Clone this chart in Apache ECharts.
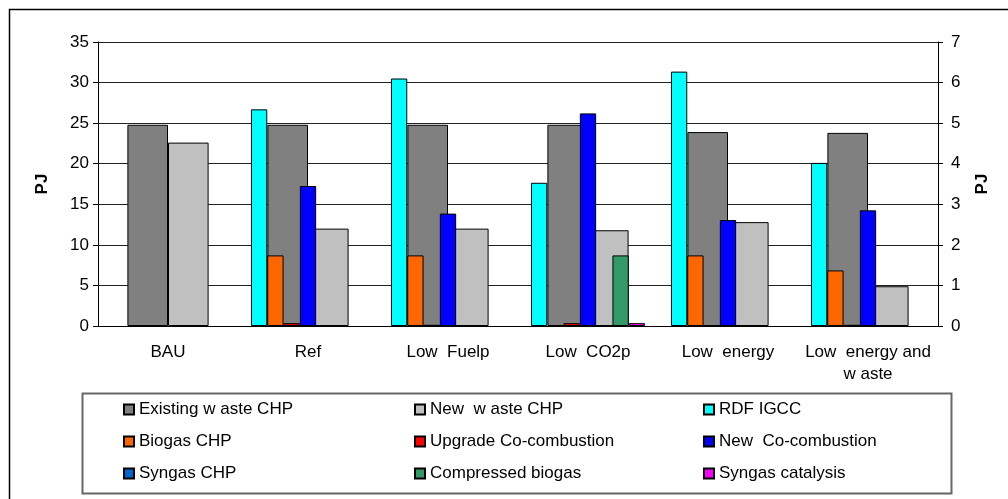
<!DOCTYPE html>
<html>
<head>
<meta charset="utf-8">
<script src="https://cdn.jsdelivr.net/npm/echarts@6/dist/echarts.min.js"></script>
<style>
  html, body { margin: 0; padding: 0; background: #fff; }
  #chart { width: 1008px; height: 499px; }
</style>
</head>
<body>
<div id="chart"></div>
<script>
// scenario categories
const categories = ['BAU', 'Ref', 'Low  Fuelp', 'Low  CO2p', 'Low  energy', 'Low  energy and\nw aste'];

// left axis series (PJ, 0-35)
const existingWasteChp = [24.8, 24.8, 24.8, 24.8, 23.9, 23.8];
const newWasteChp = [22.6, 12.0, 12.0, 11.8, 12.8, 4.9];

// right axis series (PJ, 0-7)
const rdfIgcc = [0, 5.34, 6.10, 3.53, 6.27, 4.02];
const biogasChp = [0, 1.74, 1.74, 0, 1.74, 1.37];
const upgradeCoCombustion = [0, 0.07, 0.03, 0.07, 0, 0.03];
const newCoCombustion = [0, 3.45, 2.77, 5.24, 2.61, 2.85];
const syngasChp = [0, 0, 0, 0, 0, 0];
const compressedBiogas = [0, 0, 0, 1.74, 0, 0];
const syngasCatalysis = [0, 0, 0, 0.07, 0, 0];

const chart = echarts.init(document.getElementById('chart'));
const font = "'Liberation Sans', Arial, sans-serif";

// 每个系列的公共边框
const border = { borderColor: '#000', borderWidth: 1 };

// 零值不画柱子（原图中零值没有可见的柱）
const noZero = arr => arr.map(v => (v === 0 ? '-' : v));

function primary(name, data, color) {
    return {
        name, type: 'bar', data: noZero(data),
        xAxisIndex: 0, yAxisIndex: 0,
        barGap: '0%', barCategoryGap: '42%',
        itemStyle: Object.assign({ color }, border)
    };
}
function secondary(name, data, color) {
    return {
        name, type: 'bar', data: noZero(data),
        xAxisIndex: 1, yAxisIndex: 1,
        barGap: '0%', barCategoryGap: '18.5%',
        itemStyle: Object.assign({ color }, border)
    };
}

const legendText = { fontFamily: font, fontSize: 17, color: '#000', lineHeight: 16 };
function legendCol(left, names) {
    return {
        orient: 'vertical', left, top: 401, padding: 0,
        itemWidth: 10, itemHeight: 10, itemGap: 15,
        icon: 'rect', textStyle: legendText, data: names,
        selectedMode: false
    };
}

const option = {
    backgroundColor: '#fff',
    animation: false,
    grid: { left: 98, right: 70, top: 42, bottom: 173 },
    legend: [
        legendCol(123, ['Existing w aste CHP', 'Biogas CHP', 'Syngas CHP']),
        legendCol(414, ['New  w aste CHP', 'Upgrade Co-combustion', 'Compressed biogas']),
        legendCol(703, ['RDF IGCC', 'New  Co-combustion', 'Syngas catalysis'])
    ],
    xAxis: [
        {
            type: 'category', data: categories,
            axisLine: { lineStyle: { color: '#000' } },
            axisTick: { length: 5, lineStyle: { color: '#000' } },
            axisLabel: { interval: 0, fontFamily: font, fontSize: 17, color: '#000', margin: 15, lineHeight: 22 }
        },
        { type: 'category', data: categories, show: false }
    ],
    yAxis: [
        {
            type: 'value', min: 0, max: 35, interval: 5,
            name: 'PJ', nameLocation: 'middle', nameRotate: 90, nameGap: 47,
            nameTextStyle: { fontFamily: font, fontSize: 17, fontWeight: 'bold', color: '#000' },
            axisLine: { show: true, lineStyle: { color: '#000' } },
            axisTick: { show: true, length: 5, lineStyle: { color: '#000' } },
            axisLabel: { fontFamily: font, fontSize: 17, color: '#000', margin: 9 },
            splitLine: { lineStyle: { color: '#222' } }
        },
        {
            type: 'value', min: 0, max: 7, interval: 1, position: 'right',
            name: 'PJ', nameLocation: 'middle', nameRotate: 90, nameGap: 36,
            nameTextStyle: { fontFamily: font, fontSize: 17, fontWeight: 'bold', color: '#000' },
            axisLine: { show: true, lineStyle: { color: '#000' } },
            axisTick: { show: true, length: 5, lineStyle: { color: '#000' } },
            axisLabel: { fontFamily: font, fontSize: 17, color: '#000', margin: 13 },
            splitLine: { show: false }
        }
    ],
    graphic: [
        // 外框
        { type: 'rect', left: 7, top: 7, shape: { width: 1100, height: 600 },
          style: { fill: 'none', stroke: '#000', lineWidth: 1.5 }, silent: true },
        // 图例边框
        { type: 'rect', left: 80, top: 391, shape: { width: 869, height: 100 },
          style: { fill: 'none', stroke: '#666', lineWidth: 2 }, silent: true }
    ],
    series: [
        primary('Existing w aste CHP', existingWasteChp, '#808080'),
        primary('New  w aste CHP', newWasteChp, '#C0C0C0'),
        secondary('RDF IGCC', rdfIgcc, '#00FFFF'),
        secondary('Biogas CHP', biogasChp, '#FF6600'),
        secondary('Upgrade Co-combustion', upgradeCoCombustion, '#FF0000'),
        secondary('New  Co-combustion', newCoCombustion, '#0000FF'),
        secondary('Syngas CHP', syngasChp, '#0066CC'),
        secondary('Compressed biogas', compressedBiogas, '#339966'),
        secondary('Syngas catalysis', syngasCatalysis, '#FF00FF')
    ]
};

chart.setOption(option);
</script>
</body>
</html>
